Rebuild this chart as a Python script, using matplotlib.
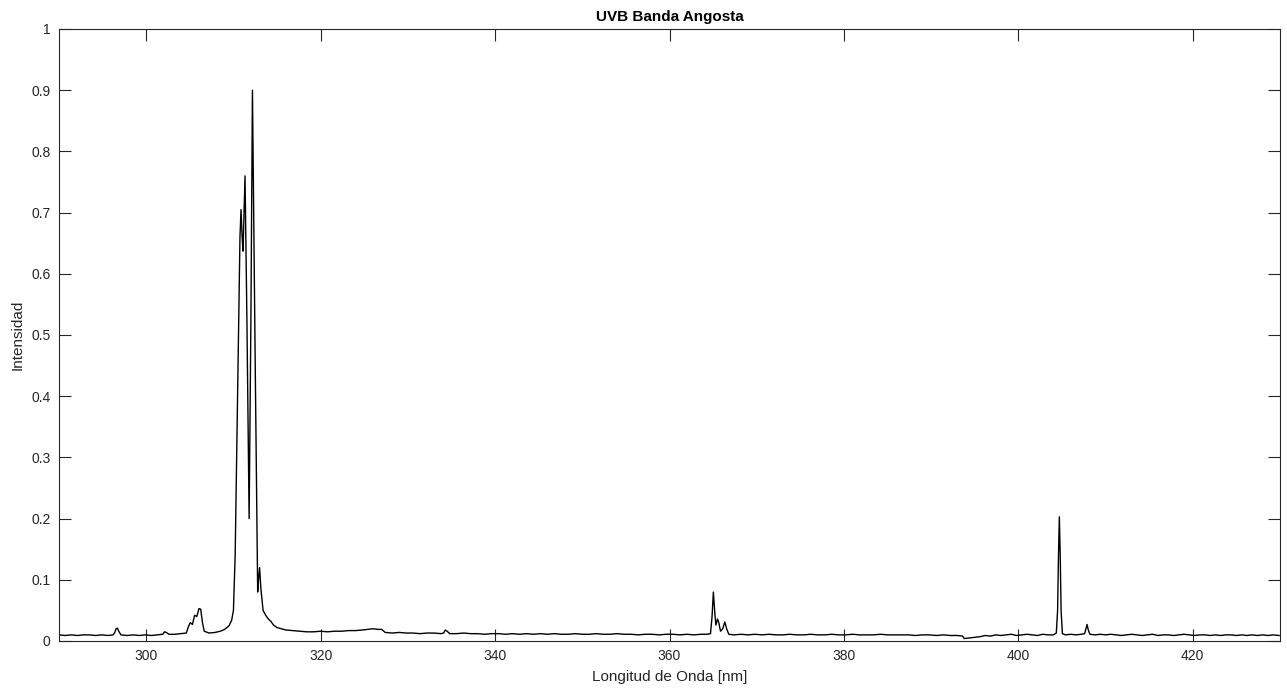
import matplotlib
matplotlib.use("Agg")
import matplotlib.pyplot as plt

title = "UVB Banda Angosta"
xlabel = "Longitud de Onda [nm]"
ylabel = "Intensidad"
xticks = [300, 320, 340, 360, 380, 400, 420]
yticks = [0, 0.1, 0.2, 0.3, 0.4, 0.5, 0.6, 0.7, 0.8, 0.9, 1]
ytick_labels = ["0", "0.1", "0.2", "0.3", "0.4", "0.5", "0.6", "0.7", "0.8", "0.9", "1"]

# wavelength (nm)
wavelength = [
    290.0, 290.7, 291.4, 292.1, 292.8, 293.5, 294.2, 294.9, 295.6, 296.2,
    296.4, 296.55, 296.7, 296.85, 297.1, 297.8, 298.5, 299.2, 299.9, 300.6,
    301.3, 301.9, 302.1, 302.3, 302.6, 303.3, 304.0, 304.6, 304.85, 305.05,
    305.3, 305.55, 305.8, 306.05, 306.25, 306.45, 306.65, 307.2, 307.9, 308.5,
    309.0, 309.5, 309.8, 310.0, 310.2, 310.5, 310.75, 310.87, 311.0, 311.1,
    311.2, 311.33, 311.55, 311.8, 312.0, 312.18, 312.5, 312.78, 312.9, 313.0,
    313.15, 313.4, 313.7, 314.0, 314.3, 314.6, 315.0, 315.5, 316.0, 316.8,
    317.6, 318.4, 319.2, 320.0, 320.8, 321.6, 322.4, 323.2, 324.0, 324.8,
    325.4, 326.0, 326.6, 327.0, 327.4, 328.2, 329.0, 329.8, 330.6, 331.4,
    332.2, 333.0, 333.8, 334.1, 334.3, 334.5, 334.8, 335.6, 336.4, 337.2,
    338.0, 338.8, 339.6, 340.4, 341.2, 342.0, 342.8, 343.6, 344.4, 345.2,
    346.0, 346.8, 347.6, 348.4, 349.2, 350.0, 350.8, 351.6, 352.4, 353.2,
    354.0, 354.8, 355.6, 356.4, 357.2, 358.0, 358.8, 359.6, 360.4, 361.2,
    362.0, 362.8, 363.6, 364.3, 364.7, 364.88, 365.03, 365.2, 365.32, 365.5,
    365.65, 365.85, 366.1, 366.35, 366.55, 366.8, 367.4, 368.2, 369.0, 369.8,
    370.6, 371.4, 372.2, 373.0, 373.8, 374.6, 375.4, 376.2, 377.0, 377.8,
    378.6, 379.4, 380.2, 381.0, 381.8, 382.6, 383.4, 384.2, 385.0, 385.8,
    386.6, 387.4, 388.2, 389.0, 389.8, 390.6, 391.4, 392.2, 393.0, 393.6,
    393.8, 394.4, 395.0, 395.6, 396.2, 396.8, 397.4, 398.0, 398.6, 399.2,
    399.8, 400.4, 401.0, 401.6, 402.2, 402.8, 403.4, 404.0, 404.35, 404.5,
    404.6, 404.7, 404.8, 404.9, 405.05, 405.4, 406.0, 406.6, 407.2, 407.6,
    407.75, 407.88, 408.0, 408.2, 408.8, 409.4, 410.0, 410.6, 411.2, 411.8,
    412.4, 413.0, 413.6, 414.2, 414.8, 415.4, 416.0, 416.6, 417.2, 417.8,
    418.4, 419.0, 419.6, 420.2, 420.8, 421.4, 422.0, 422.6, 423.2, 423.8,
    424.4, 425.0, 425.6, 426.2, 426.8, 427.4, 428.0, 428.6, 429.2, 429.9,
]

# intensity
intensity = [
    0.010, 0.009, 0.010, 0.009, 0.010, 0.010, 0.009, 0.010, 0.009, 0.010,
    0.014, 0.020, 0.021, 0.016, 0.010, 0.009, 0.010, 0.009, 0.010, 0.009,
    0.010, 0.011, 0.015, 0.014, 0.011, 0.011, 0.012, 0.013, 0.024, 0.030,
    0.027, 0.042, 0.040, 0.053, 0.052, 0.030, 0.016, 0.013, 0.014, 0.016,
    0.019, 0.025, 0.034, 0.050, 0.140, 0.420, 0.660, 0.705, 0.660, 0.637,
    0.690, 0.760, 0.520, 0.200, 0.520, 0.900, 0.450, 0.080, 0.105, 0.120,
    0.085, 0.050, 0.042, 0.036, 0.032, 0.026, 0.022, 0.020, 0.018, 0.017,
    0.016, 0.015, 0.015, 0.016, 0.015, 0.016, 0.016, 0.017, 0.017, 0.018,
    0.019, 0.020, 0.019, 0.019, 0.014, 0.013, 0.014, 0.013, 0.013, 0.012,
    0.013, 0.013, 0.012, 0.013, 0.018, 0.016, 0.012, 0.012, 0.013, 0.012,
    0.012, 0.011, 0.012, 0.012, 0.011, 0.012, 0.011, 0.012, 0.011, 0.012,
    0.011, 0.012, 0.011, 0.011, 0.012, 0.011, 0.011, 0.012, 0.011, 0.011,
    0.012, 0.011, 0.011, 0.010, 0.011, 0.011, 0.010, 0.011, 0.011, 0.010,
    0.011, 0.010, 0.011, 0.011, 0.012, 0.040, 0.080, 0.045, 0.026, 0.036,
    0.030, 0.016, 0.020, 0.031, 0.020, 0.011, 0.010, 0.011, 0.010, 0.011,
    0.010, 0.011, 0.010, 0.010, 0.011, 0.010, 0.010, 0.011, 0.010, 0.010,
    0.011, 0.010, 0.010, 0.011, 0.010, 0.010, 0.010, 0.011, 0.010, 0.010,
    0.010, 0.010, 0.009, 0.010, 0.010, 0.009, 0.010, 0.009, 0.009, 0.008,
    0.004, 0.005, 0.006, 0.007, 0.009, 0.008, 0.010, 0.009, 0.010, 0.011,
    0.009, 0.010, 0.011, 0.010, 0.009, 0.011, 0.010, 0.010, 0.013, 0.050,
    0.140, 0.203, 0.140, 0.050, 0.012, 0.010, 0.011, 0.010, 0.011, 0.012,
    0.020, 0.027, 0.019, 0.011, 0.010, 0.011, 0.010, 0.011, 0.010, 0.009,
    0.010, 0.011, 0.010, 0.009, 0.010, 0.011, 0.009, 0.010, 0.010, 0.009,
    0.010, 0.011, 0.010, 0.009, 0.010, 0.010, 0.009, 0.010, 0.009, 0.010,
    0.010, 0.009, 0.010, 0.009, 0.010, 0.009, 0.010, 0.009, 0.010, 0.009,
]

plt.rcParams['font.family'] = ['Liberation Sans', 'DejaVu Sans']
axis_color = '#262626'

fig = plt.figure(figsize=(12.87, 6.95), dpi=100)
ax = fig.add_axes([59 / 1287, 1 - 641 / 695, (1280 - 59) / 1287, (641 - 29) / 695])
ax.plot(wavelength, intensity, color='black', linewidth=1.0)

ax.set_xlim(290, 430)
ax.set_ylim(0, 1)
ax.set_xticks(xticks)
ax.set_yticks(yticks)
ax.set_yticklabels(ytick_labels)
ax.tick_params(direction='in', length=8.5, width=0.8, top=True, right=True,
               colors=axis_color, labelsize=10, pad=6)
for s in ax.spines.values():
    s.set_color(axis_color)
    s.set_linewidth(0.8)

ax.set_title(title, fontsize=11, fontweight='bold', color='black', pad=6)
ax.set_xlabel(xlabel, fontsize=11, color=axis_color, labelpad=5)
ax.set_ylabel(ylabel, fontsize=11, color=axis_color, labelpad=5)

fig.savefig('out.png', dpi=100)
